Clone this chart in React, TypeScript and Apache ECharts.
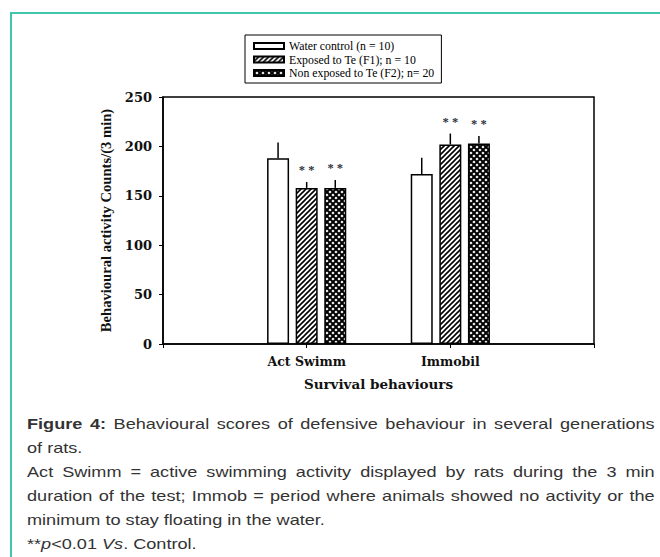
import React, { useEffect, useRef } from "react";
import * as echarts from "echarts";

const CATEGORIES = ["Act Swimm", "Immobil"];
const SERIES_NAMES = [
  "Water control (n = 10)",
  "Exposed to Te (F1); n = 10",
  "Non exposed to Te (F2); n= 20",
];
const CONTROL_MEAN = [188, 172];
const CONTROL_SE = [16, 16.5];
const F1_MEAN = [158, 202];
const F1_SE = [6, 11];
const F2_MEAN = [158, 203];
const F2_SE = [8, 7.5];
const CONTROL_SIG = [false, false];
const F1_SIG = [true, true];
const F2_SIG = [true, true];
const Y_MIN = 0;
const Y_MAX = 250;
const Y_INTERVAL = 50;

const BAR_W = 22;
const BAR_GAP = 0.3;

function makeHatch(): HTMLCanvasElement {
  const n = 5;
  const c = document.createElement("canvas");
  c.width = n;
  c.height = n;
  const g = c.getContext("2d")!;
  g.fillStyle = "#fff";
  g.fillRect(0, 0, n, n);
  g.strokeStyle = "#000";
  g.lineWidth = 1.6;
  g.beginPath();
  g.moveTo(0, n);
  g.lineTo(n, 0);
  g.moveTo(-1, 1);
  g.lineTo(1, -1);
  g.moveTo(n - 1, n + 1);
  g.lineTo(n + 1, n - 1);
  g.stroke();
  return c;
}

function makeCross(): HTMLCanvasElement {
  const n = 6;
  const c = document.createElement("canvas");
  c.width = n;
  c.height = n;
  const g = c.getContext("2d")!;
  g.fillStyle = "#000";
  g.fillRect(0, 0, n, n);
  g.fillStyle = "#fff";
  const dia = (cx: number, cy: number, r: number) => {
    g.beginPath();
    g.moveTo(cx, cy - r);
    g.lineTo(cx + r, cy);
    g.lineTo(cx, cy + r);
    g.lineTo(cx - r, cy);
    g.closePath();
    g.fill();
  };
  const r = 1.6;
  dia(n / 2, n / 2, r);
  dia(0, 0, r);
  dia(n, 0, r);
  dia(0, n, r);
  dia(n, n, r);
  return c;
}

export default function App() {
  const ref = useRef<HTMLDivElement>(null);

  useEffect(() => {
    if (!ref.current) return;
    const chart = echarts.init(ref.current, undefined, { renderer: "svg" });
    const axisData = ["", ...CATEGORIES, ""];
    const pad = (a: number[]) => ["-", ...a, "-"];
    const fills: any[] = [
      "#ffffff",
      { image: makeHatch(), repeat: "repeat" },
      { image: makeCross(), repeat: "repeat" },
    ];
    const means = [CONTROL_MEAN, F1_MEAN, F2_MEAN];
    const ses = [CONTROL_SE, F1_SE, F2_SE];
    const sigs = [CONTROL_SIG, F1_SIG, F2_SIG];

    const errData: any[] = [];
    means.forEach((m, s) => {
      m.forEach((v, i) => {
        errData.push([i + 1, v, ses[s][i], s, sigs[s][i] ? 1 : 0]);
      });
    });

    const serif = "Liberation Serif";
    const wideSerif = "DejaVu Serif";

    const option: any = {
      animation: false,
      grid: {
        left: 163,
        right: 66,
        top: 97,
        bottom: 213,
        show: true,
        borderColor: "#000",
        borderWidth: 1.5,
        backgroundColor: "transparent",
      },
      legend: {
        data: SERIES_NAMES,
        orient: "vertical",
        left: 245,
        top: 35,
        padding: [5, 7, 4, 8],
        borderColor: "#000",
        borderWidth: 1,
        itemWidth: 30,
        itemHeight: 6,
        itemGap: 1.5,
        icon: "rect",
        selectedMode: false,
        textStyle: {
          fontFamily: serif,
          fontSize: 11.8,
          color: "#000",
          lineHeight: 12,
          padding: [0, 0, 0, 0],
        },
      },
      xAxis: {
        type: "category",
        data: axisData,
        boundaryGap: false,
        name: "Survival behaviours",
        nameLocation: "middle",
        nameGap: 33,
        nameTextStyle: {
          fontFamily: wideSerif,
          fontWeight: "bold",
          fontSize: 13.5,
          color: "#111",
        },
        axisLine: { show: true, lineStyle: { color: "#000", width: 1.5 } },
        axisTick: { show: true, interval: 0, length: 4, lineStyle: { color: "#000", width: 1 } },
        axisLabel: {
          interval: 0,
          margin: 11,
          fontFamily: wideSerif,
          fontWeight: "bold",
          fontSize: 12.5,
          color: "#111",
        },
        splitLine: { show: false },
      },
      yAxis: {
        type: "value",
        min: Y_MIN,
        max: Y_MAX,
        interval: Y_INTERVAL,
        name: "Behavioural activity Counts/(3 min)",
        nameLocation: "middle",
        nameGap: 50,
        nameTextStyle: {
          fontFamily: serif,
          fontWeight: "bold",
          fontSize: 14.6,
          color: "#111",
        },
        axisLine: { show: true, lineStyle: { color: "#000", width: 1.5 } },
        axisTick: { show: true, length: 4, lineStyle: { color: "#000", width: 1 } },
        axisLabel: {
          margin: 11,
          fontFamily: wideSerif,
          fontWeight: "bold",
          fontSize: 13,
          color: "#111",
        },
        splitLine: { show: false },
      },
      series: [
        ...SERIES_NAMES.map((name, s) => ({
          name,
          type: "bar",
          data: pad(means[s]),
          barWidth: BAR_W,
          barGap: `${BAR_GAP * 100}%`,
          itemStyle: {
            color: fills[s],
            borderColor: "#000",
            borderWidth: 1.5,
          },
          z: 2,
        })),
        {
          type: "custom",
          name: "err",
          data: errData,
          encode: { x: 0, y: 1 },
          z: 3,
          renderItem: (params: any, api: any) => {
            const cat = api.value(0);
            const mean = api.value(1);
            const se = api.value(2);
            const s = api.value(3);
            const sig = api.value(4);
            const base = api.coord([cat, mean]);
            const top = api.coord([cat, mean + se]);
            const x = base[0] + (s - 1) * BAR_W * (1 + BAR_GAP);
            const children: any[] = [
              {
                type: "line",
                shape: { x1: x, y1: base[1], x2: x, y2: top[1] },
                style: { stroke: "#000", lineWidth: 1.5 },
              },
            ];
            if (sig) {
              children.push({
                type: "text",
                style: {
                  text: "* *",
                  x: x,
                  y: top[1] - 12,
                  align: "center",
                  verticalAlign: "middle",
                  font: `bold 12.5px "${serif}"`,
                  fill: "#2f3440",
                },
              });
            }
            return { type: "group", children };
          },
        },
      ],
    };
    chart.setOption(option);
    return () => chart.dispose();
  }, []);

  const cap: React.CSSProperties = {
    whiteSpace: "nowrap",
    height: 24,
  };
  const just: React.CSSProperties = {
    ...cap,
    textAlign: "justify",
    textAlignLast: "justify" as any,
  };

  return (
    <div
      style={{
        position: "fixed",
        left: 0,
        top: 0,
        width: 660,
        height: 557,
        background: "#fff",
        overflow: "hidden",
      }}
    >
      <div
        style={{
          position: "absolute",
          left: 10,
          top: 12,
          width: 700,
          height: 600,
          borderTop: "2px solid #3fc6ae",
          borderLeft: "2px solid #3fc6ae",
        }}
      />
      <div ref={ref} style={{ position: "absolute", left: 0, top: 0, width: 660, height: 557 }} />
      <div
        style={{
          position: "absolute",
          left: 27,
          top: 412,
          width: 520,
          transform: "scaleX(1.207)",
          transformOrigin: "left top",
          fontFamily: '"Liberation Sans", Arial, sans-serif',
          fontSize: 15,
          lineHeight: "24px",
          color: "#333",
        }}
      >
        <div style={just}>
          <b>Figure 4:</b> Behavioural scores of defensive behaviour in several generations
        </div>
        <div style={cap}>of rats.</div>
        <div style={just}>
          Act Swimm = active swimming activity displayed by rats during the 3 min
        </div>
        <div style={just}>
          duration of the test; Immob = period where animals showed no activity or the
        </div>
        <div style={cap}>minimum to stay floating in the water.</div>
        <div style={cap}>
          **<i>p</i>&lt;0.01 <i>Vs</i>. Control.
        </div>
      </div>
    </div>
  );
}
